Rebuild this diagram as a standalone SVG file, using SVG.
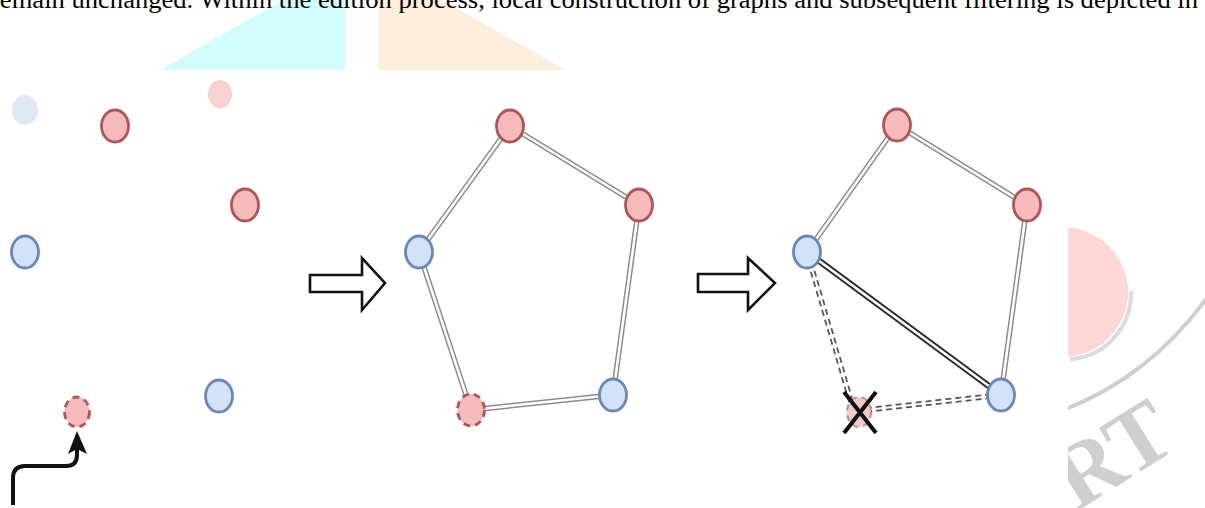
<svg xmlns="http://www.w3.org/2000/svg" width="1205" height="508" viewBox="0 0 1205 508">
<style>
.red{fill:#f5baba;stroke:#b05555;stroke-width:2.8}
.blue{fill:#d2e2f9;stroke:#6b87b3;stroke-width:2.8}
.dred{fill:#f5baba;stroke:#b05555;stroke-width:2.8;stroke-dasharray:7 5}
.eo{fill:none;stroke:#8c8c8c;stroke-width:5.5}
.ei{fill:none;stroke:#fff;stroke-width:2.5}
.do{fill:none;stroke:#555;stroke-width:5.5;stroke-dasharray:6 4}
.di{fill:none;stroke:#fff;stroke-width:2}
.blk{fill:#fff;stroke:#111;stroke-width:2.6;stroke-linejoin:miter}
</style>
<rect width="1205" height="508" fill="#fff"/>
<g id="watermark">
<polygon points="160,70 283,0 345,0 345,70" fill="#d2fdfd"/>
<polygon points="378,0 442,0 565,70 378,70" fill="#feeedc"/>
<path d="M1131,291 A64,66 0 0 1 1070,359" fill="none" stroke="#dcdcdc" stroke-width="4"/>
<ellipse cx="1062" cy="292" rx="66" ry="65" fill="#fdd8d4"/>
<path d="M1066,409 Q1150,376 1207,298" fill="none" stroke="#cfcfcf" stroke-width="4"/>
<text x="1180" y="447" transform="rotate(-32 1180 447)" text-anchor="end" font-family="Liberation Serif, serif" font-weight="bold" font-size="90" fill="#cfcfcf">RT</text>
</g>
<text x="-9" y="8" textLength="1207" lengthAdjust="spacingAndGlyphs" font-family="Liberation Serif, serif" font-size="26" fill="#000">remain unchanged. Within the edition process, local construction of graphs and subsequent filtering is depicted in</text>
<rect x="0" y="70" width="1068" height="438" fill="#fff"/>
<g id="connectors">
<path class="eo" d="M510,126 L419,252 M510,126 L639,205 M639,205 L613,395 M419,252 L471,410 M471,410 L613,395"/>
<path class="ei" d="M510,126 L419,252 M510,126 L639,205 M639,205 L613,395 M419,252 L471,410 M471,410 L613,395"/>
<path class="eo" d="M897,125 L807,252 M897,125 L1027,205 M1027,205 L1001,395"/>
<path class="ei" d="M897,125 L807,252 M897,125 L1027,205 M1027,205 L1001,395"/>
<path d="M807,252 L1001,395" fill="none" stroke="#2a2a2a" stroke-width="6.5"/>
<path d="M807,252 L1001,395" fill="none" stroke="#fff" stroke-width="2.6"/>
<path class="do" d="M807,252 L852,405 M866,410 L1001,395"/>
<path class="di" d="M807,252 L852,405 M866,410 L1001,395"/>
<path d="M13,505 L13,478 Q13,466 25,466 L66,466 Q77,466 77,455 L77,448" fill="none" stroke="#111" stroke-width="4"/>
<polygon points="68,454 77,431 87,454 77,449" fill="#111"/>
<polygon class="blk" points="310,275 362,275 362,258 385,283 362,310 362,292 310,292"/>
<polygon class="blk" points="698,274 748,274 748,258 775,283 748,310 748,292 698,292"/>
</g>
<g id="n-l1"><ellipse cx="25" cy="110" rx="13" ry="15" fill="#e0e8f6"/></g>
<g id="n-l2"><ellipse class="red" cx="115" cy="126" rx="13.5" ry="16"/></g>
<g id="n-l3"><ellipse cx="220" cy="94" rx="12" ry="14" fill="#f6d3d0"/></g>
<g id="n-l4"><ellipse class="red" cx="245" cy="205" rx="13.5" ry="16"/></g>
<g id="n-l5"><ellipse class="blue" cx="25" cy="252" rx="13.5" ry="16"/></g>
<g id="n-l6"><ellipse class="dred" cx="77" cy="412" rx="12.5" ry="15"/></g>
<g id="n-l7"><ellipse class="blue" cx="219" cy="396" rx="13.5" ry="16"/></g>
<g id="n-m1"><ellipse class="red" cx="510" cy="126" rx="13.5" ry="16"/></g>
<g id="n-m2"><ellipse class="red" cx="639" cy="205" rx="13.5" ry="16"/></g>
<g id="n-m3"><ellipse class="blue" cx="419" cy="252" rx="13.5" ry="16"/></g>
<g id="n-m4"><ellipse class="dred" cx="471" cy="410" rx="13.5" ry="16"/></g>
<g id="n-m5"><ellipse class="blue" cx="613" cy="395" rx="13.5" ry="16"/></g>
<g id="n-r1"><ellipse class="red" cx="897" cy="125" rx="13.5" ry="16"/></g>
<g id="n-r2"><ellipse class="red" cx="1027" cy="205" rx="13.5" ry="16"/></g>
<g id="n-r3"><ellipse class="blue" cx="807" cy="252" rx="13.5" ry="16"/></g>
<g id="n-r4"><ellipse class="blue" cx="1001" cy="395" rx="13.5" ry="16"/></g>
<g id="n-r5"><ellipse cx="859" cy="412" rx="12" ry="15" fill="#f3c9c9" stroke="#c98a8a" stroke-width="2" stroke-dasharray="6 5"/>
<path d="M844,392 L876,433 M876,392 L844,433" stroke="#111" stroke-width="4" fill="none"/></g>
</svg>
